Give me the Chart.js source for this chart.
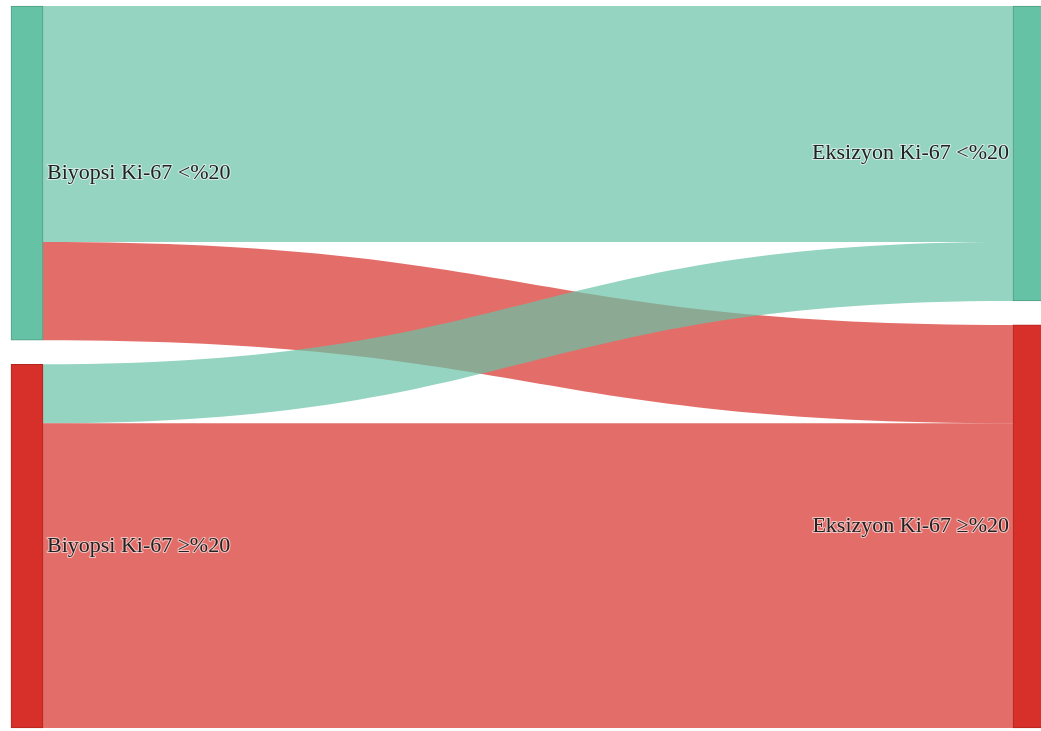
<!DOCTYPE html>
<html>
<head>
<meta charset="utf-8">
<script src="https://cdn.jsdelivr.net/npm/chart.js@4/dist/chart.umd.min.js"></script>
<style>
  html, body { margin: 0; padding: 0; background: #fff; overflow: hidden; }
  #wrap { width: 1045px; height: 731px; }
</style>
</head>
<body>
<div id="wrap"><canvas id="sankey"></canvas></div>
<script>
// nodes: 0,1 = left column, 2,3 = right column
const nodeLabels = ['Biyopsi Ki-67 <%20', 'Biyopsi Ki-67 \u2265%20', 'Eksizyon Ki-67 <%20', 'Eksizyon Ki-67 \u2265%20'];
const nodeColumn = [0, 0, 1, 1];
const nodeColors = ['#66c2a5', '#d7302a', '#66c2a5', '#d7302a'];
const linkColors = ['rgba(102,194,165,0.7)', 'rgba(215,48,42,0.7)'];

// links (counts)
const sources = [0, 0, 1, 1];
const targets = [2, 3, 2, 3];
const values = [24, 10, 6, 31];

const gap = 2.44;

// node totals and stacked positions in value units
const nodeTotals = nodeLabels.map((_, n) => {
    let s = 0, t = 0;
    sources.forEach((src, i) => { if (src === n) s += values[i]; });
    targets.forEach((tg, i) => { if (tg === n) t += values[i]; });
    return Math.max(s, t);
});
const nodeStart = [];
[0, 1].forEach(col => {
    let pos = 0;
    nodeLabels.forEach((_, n) => {
        if (nodeColumn[n] !== col) return;
        nodeStart[n] = pos;
        pos += nodeTotals[n] + gap;
    });
});
const yMax = Math.max(...[0, 1].map(col => {
    let s = 0, c = 0;
    nodeLabels.forEach((_, n) => { if (nodeColumn[n] === col) { s += nodeTotals[n]; c++; } });
    return s + gap * (c - 1);
}));

// one floating-bar dataset per colour group
const datasets = [0, 1].map(k => ({
    data: [0, 1].map(col => {
        const n = col * 2 + k;
        return [nodeStart[n], nodeStart[n] + nodeTotals[n]];
    }),
    backgroundColor: nodeColors[k],
    borderColor: k === 0 ? '#4f9e85' : '#b3261f',
    borderWidth: 1,
    borderSkipped: false,
    barThickness: 32,
    grouped: false,
    clip: false
}));

const sankeyPlugin = {
    id: 'sankeyLinks',
    beforeDatasetsDraw(chart) {
        const { ctx, scales: { x, y } } = chart;
        const half = chart.getDatasetMeta(0).data[0].width / 2;
        const outOff = nodeLabels.map(() => 0);
        const inOff = nodeLabels.map(() => 0);
        ctx.save();
        sources.forEach((src, i) => {
            const tg = targets[i];
            const v = values[i];
            const s0 = nodeStart[src] + outOff[src];
            const t0 = nodeStart[tg] + inOff[tg];
            outOff[src] += v;
            inOff[tg] += v;
            const x0 = x.getPixelForValue(nodeColumn[src]) + half;
            const x1 = x.getPixelForValue(nodeColumn[tg]) - half;
            const xm = (x0 + x1) / 2;
            const ya = y.getPixelForValue(s0), yb = y.getPixelForValue(s0 + v);
            const yc = y.getPixelForValue(t0), yd = y.getPixelForValue(t0 + v);
            ctx.beginPath();
            ctx.moveTo(x0, ya);
            ctx.bezierCurveTo(xm, ya, xm, yc, x1, yc);
            ctx.lineTo(x1, yd);
            ctx.bezierCurveTo(xm, yd, xm, yb, x0, yb);
            ctx.closePath();
            ctx.fillStyle = linkColors[tg - 2];
            ctx.fill();
        });
        ctx.restore();
    },
    afterDatasetsDraw(chart) {
        const { ctx, scales: { x, y } } = chart;
        const half = chart.getDatasetMeta(0).data[0].width / 2;
        ctx.save();
        ctx.font = '22px "Liberation Serif", "DejaVu Serif", serif';
        ctx.textBaseline = 'middle';
        ctx.lineJoin = 'round';
        nodeLabels.forEach((label, n) => {
            const col = nodeColumn[n];
            const yy = y.getPixelForValue(nodeStart[n] + nodeTotals[n] / 2);
            let xx;
            if (col === 0) {
                ctx.textAlign = 'left';
                xx = x.getPixelForValue(0) + half + 4;
            } else {
                ctx.textAlign = 'right';
                xx = x.getPixelForValue(1) - half - 4;
            }
            ctx.strokeStyle = 'rgba(255,255,255,0.6)';
            ctx.lineWidth = 2;
            ctx.strokeText(label, xx, yy);
            ctx.fillStyle = '#222';
            ctx.fillText(label, xx, yy);
        });
        ctx.restore();
    }
};

new Chart(document.getElementById('sankey'), {
    type: 'bar',
    data: { labels: ['Biyopsi', 'Eksizyon'], datasets },
    options: {
        responsive: true,
        maintainAspectRatio: false,
        animation: false,
        layout: { padding: { left: 27, right: 16, top: 6, bottom: 3 } },
        scales: {
            x: { display: false, offset: false },
            y: { display: false, reverse: true, min: 0, max: yMax }
        },
        plugins: { legend: { display: false }, tooltip: { enabled: false } }
    },
    plugins: [sankeyPlugin]
});
</script>
</body>
</html>
